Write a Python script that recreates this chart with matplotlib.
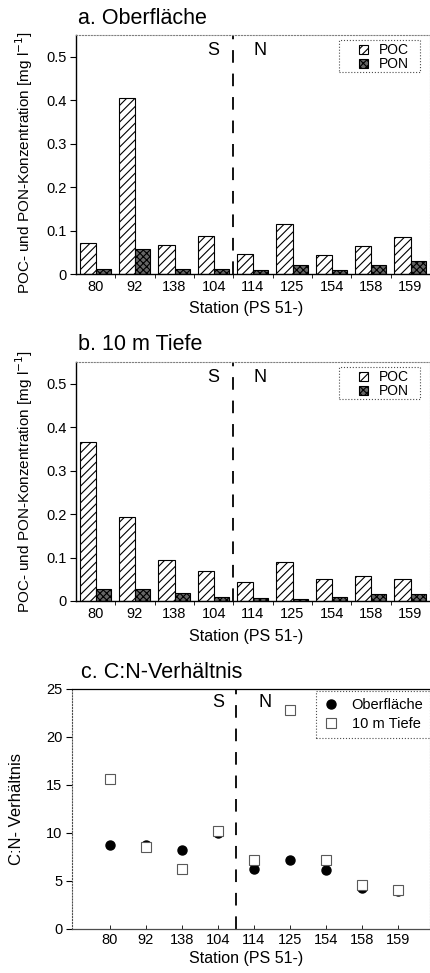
import matplotlib
matplotlib.use('Agg')
import matplotlib.pyplot as plt
import numpy as np
from matplotlib.patches import Rectangle

plt.rcParams['font.family'] = ['Liberation Sans', 'DejaVu Sans']
plt.rcParams['hatch.linewidth'] = 0.8

stationen = ['80', '92', '138', '104', '114', '125', '154', '158', '159']

# POC / PON [mg l-1], Oberflaeche
poc_oberflaeche = [0.071, 0.406, 0.067, 0.088, 0.046, 0.115, 0.044, 0.065, 0.086]
pon_oberflaeche = [0.011, 0.057, 0.012, 0.012, 0.010, 0.021, 0.010, 0.020, 0.030]

# POC / PON [mg l-1], 10 m Tiefe
poc_10m = [0.365, 0.194, 0.094, 0.069, 0.044, 0.089, 0.051, 0.058, 0.050]
pon_10m = [0.028, 0.028, 0.018, 0.010, 0.008, 0.005, 0.010, 0.016, 0.016]

# C:N-Verhaeltnis
cn_oberflaeche = [8.8, 8.8, 8.2, 10.0, 6.2, 7.2, 6.1, 4.3, 4.0]
cn_10m = [15.6, 8.5, 6.3, 10.2, 7.2, 22.8, 7.2, 4.6, 4.1]

W, H = 431, 973
fig = plt.figure(figsize=(W / 100, H / 100), dpi=100)


def fx(px):
    return px / W


def fy(py):
    return 1 - py / H


def balken(ax, poc, pon):
    x = np.arange(len(stationen))
    b1 = ax.bar(x - 0.2, poc, 0.42, color='white', edgecolor='black',
                hatch='////', linewidth=0.8, label='POC')
    b2 = ax.bar(x + 0.2, pon, 0.38, color='0.4', edgecolor='black',
                hatch='xxxxx', linewidth=0.8, label='PON')
    ax.set_xlim(-0.5, 8.5)
    ax.set_ylim(0, 0.55)
    ax.set_xticks(x)
    ax.set_xticklabels(stationen, fontsize=10.5)
    ax.set_xticks(np.arange(0.5, 8.5, 1), minor=True)
    ax.tick_params(axis='x', which='major', length=0, pad=4)
    ax.tick_params(axis='x', which='minor', length=3, width=0.6, direction='out')
    ax.set_yticks([0, 0.1, 0.2, 0.3, 0.4, 0.5])
    ax.set_yticklabels(['0', '0.1', '0.2', '0.3', '0.4', '0.5'], fontsize=10.5)
    ax.tick_params(axis='y', length=4, width=0.8, direction='out', pad=3)
    for s in ['left', 'bottom']:
        ax.spines[s].set_linewidth(1.0)
    for s in ['top', 'right']:
        ax.spines[s].set_linestyle(':')
        ax.spines[s].set_color('0.5')
        ax.spines[s].set_linewidth(0.8)
    ax.axvline(3.5, color='black', linestyle=(0, (7, 6)), linewidth=1.3)
    ax.text(3.0, 0.515, 'S', fontsize=13, ha='center', va='center')
    ax.text(4.17, 0.515, 'N', fontsize=13, ha='center', va='center')
    ax.legend(handles=[b1, b2], loc='upper right',
              bbox_to_anchor=(0.94, 0.965), frameon=False, fontsize=10,
              handlelength=0.6, handleheight=0.7, handletextpad=0.8,
              labelspacing=0.0, borderpad=0, borderaxespad=0)
    ax.add_patch(Rectangle((0.743, 0.845), 0.229, 0.134, transform=ax.transAxes,
                           fill=False, linestyle=':', edgecolor='0.3',
                           linewidth=0.8, clip_on=False))


# a. Oberflaeche
ax1 = fig.add_axes([fx(76), fy(274), fx(430 - 76), (274 - 35) / H])
balken(ax1, poc_oberflaeche, pon_oberflaeche)
fig.text(fx(78), fy(19), 'a. Oberfläche', fontsize=15.5, va='center')
fig.text(fx(246), fy(308), 'Station (PS 51-)', fontsize=11.5, ha='center', va='center')
fig.text(fx(24), fy(162), 'POC- und PON-Konzentration [mg l$^{-1}$]', fontsize=11,
         rotation=90, ha='center', va='center')

# b. 10 m Tiefe
ax2 = fig.add_axes([fx(76), fy(601), fx(430 - 76), (601 - 362) / H])
balken(ax2, poc_10m, pon_10m)
fig.text(fx(78), fy(345), 'b. 10 m Tiefe', fontsize=15.5, va='center')
fig.text(fx(246), fy(636), 'Station (PS 51-)', fontsize=11.5, ha='center', va='center')
fig.text(fx(24), fy(481), 'POC- und PON-Konzentration [mg l$^{-1}$]', fontsize=11,
         rotation=90, ha='center', va='center')

# c. C:N-Verhaeltnis
ax3 = fig.add_axes([fx(72), fy(929), fx(430 - 72), (929 - 689) / H])
x = np.arange(len(stationen))
ax3.plot(x, cn_oberflaeche, 'o', color='black', markersize=6.5, label='Oberfläche')
ax3.plot(x, cn_10m, 's', markerfacecolor='white', markeredgecolor='0.35',
         markeredgewidth=0.8, markersize=7.5, label='10 m Tiefe')
ax3.set_xlim(-1.05, 8.89)
ax3.set_ylim(0, 25)
ax3.set_xticks(x)
ax3.set_xticklabels(stationen, fontsize=10.5)
ax3.tick_params(axis='x', length=3, width=0.6, direction='in', pad=3)
ax3.set_yticks([0, 5, 10, 15, 20, 25])
ax3.tick_params(axis='y', length=4, width=0.8, direction='out', pad=3, labelsize=10.5)
ax3.spines['left'].set_linestyle(':')
ax3.spines['left'].set_color('0.3')
ax3.spines['right'].set_linestyle(':')
ax3.spines['right'].set_color('0.4')
ax3.spines['bottom'].set_linewidth(0.9)
ax3.spines['bottom'].set_color('0.3')
ax3.spines['top'].set_linewidth(0.9)
ax3.axvline(3.5, color='black', linestyle=(0, (7, 6)), linewidth=1.3)
ax3.text(3.0, 23.6, 'S', fontsize=13, ha='center', va='center')
ax3.text(4.3, 23.6, 'N', fontsize=13, ha='center', va='center')
leg = ax3.legend(loc='upper right', bbox_to_anchor=(1.0, 0.99), fontsize=10.5,
                 fancybox=False, framealpha=1, edgecolor='0.3',
                 handletextpad=0.8, borderpad=0.45, labelspacing=0.35,
                 handlelength=1.2, borderaxespad=0)
leg.get_frame().set_linestyle(':')
leg.get_frame().set_linewidth(0.8)
fig.text(fx(81), fy(672), 'c. C:N-Verhältnis', fontsize=15.5, va='center')
fig.text(fx(246), fy(959), 'Station (PS 51-)', fontsize=11.5, ha='center', va='center')
fig.text(fx(17), fy(809), 'C:N- Verhältnis', fontsize=12,
         rotation=90, ha='center', va='center')

fig.savefig('out.png', dpi=100)
